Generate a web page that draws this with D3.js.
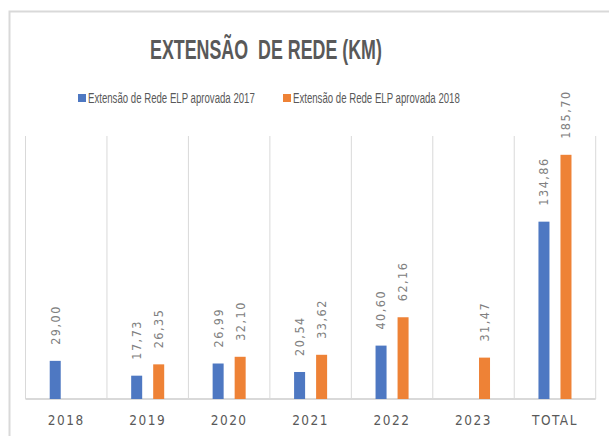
<!DOCTYPE html>
<html>
<head>
<meta charset="utf-8">
<script src="https://cdn.jsdelivr.net/npm/d3@7"></script>
<style>
  body { margin: 0; background: #fff; }
  text { font-family: "DejaVu Sans Condensed", "Liberation Sans", sans-serif; }
  .narrow { font-family: "Liberation Sans", sans-serif; white-space: pre; }
</style>
</head>
<body>
<svg width="609" height="436"></svg>
<script>
// Categories on the x axis
const categories = ["2018", "2019", "2020", "2021", "2022", "2023", "TOTAL"];

// Series names (legend)
const seriesNames = ["Extensão de Rede ELP aprovada 2017", "Extensão de Rede ELP aprovada 2018"];

// Values per category, null where there is no bar
const values2017 = [29.00, 17.73, 26.99, 20.54, 40.60, null, 134.86];
const values2018 = [null, 26.35, 32.10, 33.62, 62.16, 31.47, 185.70];

const colors = ["#4e78c2", "#ee8236"];

const svg = d3.select("svg");
const W = 609, H = 436;

// squeeze a text horizontally so it fits a given width (no Calibri here)
function squeeze(sel, x, y, width) {
    const w = sel.node().getComputedTextLength();
    sel.attr("transform", `translate(${x},${y}) scale(${width / w},1)`);
}

// outer chart frame (cut on the right like the screenshot)
svg.append("path")
    .attr("d", `M9.5,${H} V11.5 H${W}`)
    .attr("fill", "none")
    .attr("stroke", "#d9d9d9")
    .attr("stroke-width", 2);

const plot = { left: 25.5, right: 595.7, top: 136, bottom: 399 };

const x0 = d3.scaleBand()
    .domain(categories)
    .range([plot.left, plot.right])
    .padding(0);

const x1 = d3.scaleBand()
    .domain([0, 1])
    .range([0, x0.bandwidth()])
    .paddingInner(0.5)
    .paddingOuter(1.1);

const y = d3.scaleLinear()
    .domain([0, 200])
    .range([plot.bottom, plot.top]);

// title
const title = svg.append("text")
    .attr("class", "narrow")
    .style("font-size", "27px")
    .style("font-weight", "bold")
    .style("fill", "#595959")
    .text("EXTENSÃO  DE REDE (KM)");
squeeze(title, 150, 59, 232);

// legend
const legendX = [78, 283];
seriesNames.forEach((name, i) => {
    svg.append("rect")
        .attr("x", legendX[i]).attr("y", 94)
        .attr("width", 8).attr("height", 8)
        .attr("fill", colors[i]);
    const t = svg.append("text")
        .attr("class", "narrow")
        .attr("dy", "0.35em")
        .style("font-size", "14.5px")
        .style("fill", "#595959")
        .text(name);
    squeeze(t, legendX[i] + 10, 98, 167);
});

// vertical separators between categories
const bounds = categories.map(c => x0(c)).concat([plot.right]);
svg.append("g")
    .selectAll("line")
    .data(bounds)
    .join("line")
    .attr("x1", d => d).attr("x2", d => d)
    .attr("y1", plot.top).attr("y2", plot.bottom)
    .attr("stroke", "#d9d9d9")
    .attr("stroke-width", 1);

// baseline
svg.append("line")
    .attr("x1", plot.left).attr("x2", plot.right)
    .attr("y1", plot.bottom).attr("y2", plot.bottom)
    .attr("stroke", "#d9d9d9")
    .attr("stroke-width", 2);

// bars + labels
const rows = [];
categories.forEach((c, i) => {
    [values2017[i], values2018[i]].forEach((v, s) => {
        if (v !== null) rows.push({ cat: c, s: s, v: v });
    });
});

const fmt = v => v.toFixed(2).replace(".", ",");

svg.append("g")
    .selectAll("rect")
    .data(rows)
    .join("rect")
    .attr("x", d => x0(d.cat) + x1(d.s))
    .attr("width", x1.bandwidth())
    .attr("y", d => y(d.v))
    .attr("height", d => y(0) - y(d.v))
    .attr("fill", d => colors[d.s]);

svg.append("g")
    .selectAll("text")
    .data(rows)
    .join("text")
    .attr("transform", d => `translate(${x0(d.cat) + x1(d.s) + x1.bandwidth() / 2},${y(d.v) - 16}) rotate(-90)`)
    .attr("dy", "0.35em")
    .style("font-size", "12.5px")
    .style("letter-spacing", "1.5px")
    .style("fill", "#808080")
    .text(d => fmt(d.v));

// category labels
svg.append("g")
    .selectAll("text")
    .data(categories)
    .join("text")
    .attr("x", d => x0(d) + x0.bandwidth() / 2)
    .attr("y", 420)
    .attr("dy", "0.35em")
    .attr("text-anchor", "middle")
    .style("font-size", "13.5px")
    .style("letter-spacing", "1.5px")
    .style("fill", "#595959")
    .text(d => d);
</script>
</body>
</html>
